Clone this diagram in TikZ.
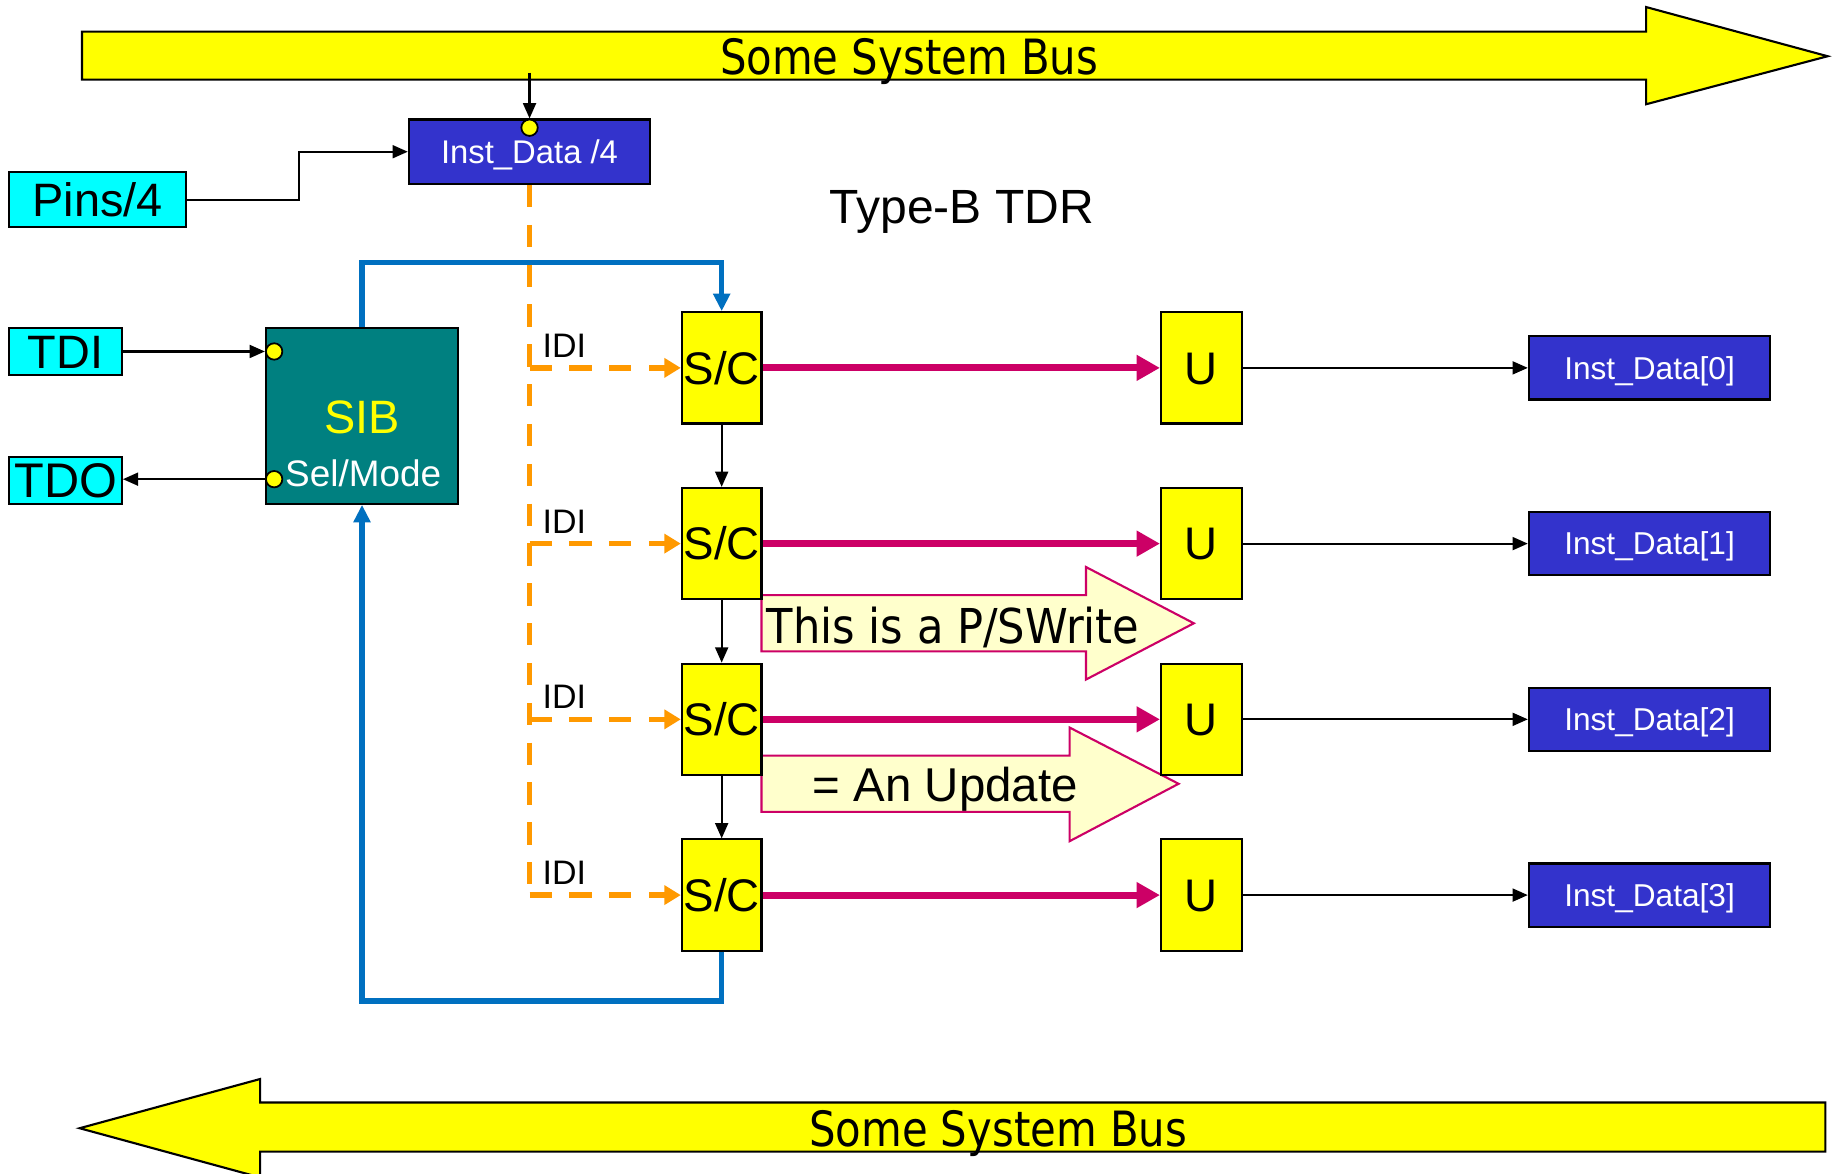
\documentclass[tikz,border=0pt]{standalone}
\usepackage{fontspec}
\setmainfont{Liberation Sans}
\newfontfamily\busface{DejaVu Sans}[FakeStretch=0.86]
\newfontfamily\noteface{DejaVu Sans}[FakeStretch=0.9]
\usetikzlibrary{arrows.meta,calc}

\definecolor{busyellow}{HTML}{FFFF00}
\definecolor{pincyan}{HTML}{00FFFF}
\definecolor{sibteal}{HTML}{008080}
\definecolor{instblue}{HTML}{3333CC}
\definecolor{loopblue}{HTML}{0070C0}
\definecolor{idiorange}{HTML}{FF9900}
\definecolor{updmagenta}{HTML}{CC0066}
\definecolor{notecream}{HTML}{FFFFCC}

\newcommand\setfs[1]{\fontsize{#1}{#1}\selectfont}

\begin{document}
\begin{tikzpicture}[x=1pt,y=-1pt,
  blk/.style={draw=black, line width=1.8pt, inner sep=0pt, text depth=0pt},
  pinbox/.style={blk, fill=pincyan, font=\setfs{40}, text height=28.6pt},
  scbox/.style={blk, fill=busyellow, minimum width=68pt, minimum height=95pt,
                font=\setfs{39}, text height=27.9pt},
  ubox/.style={blk, fill=busyellow, minimum width=69pt, minimum height=95pt,
               font=\setfs{39}, text height=27.9pt},
  instbox/.style={blk, fill=instblue, text=white, minimum width=206pt,
                  minimum height=54pt, font=\setfs{27}, text height=19.3pt},
  bus/.style={fill=busyellow, draw=black, line width=1.8pt, line join=miter},
  note/.style={fill=notecream, draw=updmagenta, line width=1.8pt, line join=miter},
  sigline/.style={draw=black, line width=1.8pt, -{Triangle[length=13pt,width=11pt]}},
  looppath/.style={draw=loopblue, line width=4.5pt, -{Triangle[length=15pt,width=14pt]}},
  idipath/.style={draw=idiorange, line width=4.5pt, dash pattern=on 19pt off 15pt},
  idiarrow/.style={idipath, -{Triangle[length=14pt,width=16pt]}},
  updpath/.style={draw=updmagenta, line width=6pt, -{Triangle[length=20pt,width=21pt]}},
  dot/.style={circle, fill=busyellow, draw=black, line width=1.5pt,
              minimum size=14pt, inner sep=0pt},
  idilabel/.style={font=\setfs{29}, anchor=base west, inner sep=0pt}
]
\path[use as bounding box] (0,0) rectangle (1568,1002);
\clip (0,0) rectangle (1568,1002);
\fill[white] (0,0) rectangle (1568,1002);

% system buses
\filldraw[bus] (70,27) -- (1405,27) -- (1405,6) -- (1560,48) -- (1405,89)
  -- (1405,68) -- (70,68) -- cycle;
\node[font=\busface\setfs{41.5}, anchor=base] (bustoplabel) at (776,64) {Some System Bus};
\filldraw[bus] (1558,941) -- (222,941) -- (222,921) -- (68,963) -- (222,1005)
  -- (222,983) -- (1558,983) -- cycle;
\node[font=\busface\setfs{41.5}, anchor=base] (busbotlabel) at (852,979) {Some System Bus};

% callout arrows
\filldraw[note] (650,508) -- (927,508) -- (927,484) -- (1019,532) -- (927,580)
  -- (927,556) -- (650,556) -- cycle;
\node[font=\noteface\setfs{41}, anchor=base] (notewrite) at (813.5,549) {This is a P/SWrite};
\filldraw[note] (650,645) -- (913,645) -- (913,621) -- (1006,669) -- (913,718)
  -- (913,693) -- (650,693) -- cycle;
\node[font=\setfs{40.5}, anchor=base] (noteupdate) at (807,684.5) {= An Update};

% title
\node[font=\setfs{41}, anchor=base] (title) at (821,190.5) {Type-B TDR};

% blocks on the left
\node[instbox, minimum height=55pt, font=\setfs{28}, text height=20pt] (idq) at (452,129.5) {Inst\_Data /4};
\node[pinbox, minimum width=151pt, minimum height=47pt] (pins) at (83.5,170.5) {Pins/4};
\node[pinbox, minimum width=96pt, minimum height=40pt] (tdi) at (56,300) {TDI};
\node[pinbox, minimum width=96pt, minimum height=40pt, font=\setfs{41.5}] (tdo) at (56,410) {TDO};
\node[blk, fill=sibteal, minimum width=164pt, minimum height=150pt] (sib) at (309,355) {};
\node[text=busyellow, font=\setfs{40}, anchor=base] (sibname) at (309,370) {SIB};
\node[text=white, font=\setfs{31.5}, anchor=base] (sibmode) at (310,415) {Sel/Mode};

% shift/capture, update and instrument register rows
\foreach \i/\y in {0/314, 1/464, 2/614, 3/764} {
  \node[scbox] (sc\i) at (616,\y) {S/C};
  \node[ubox] (u\i) at (1025.5,\y) {U};
  \node[instbox] (inst\i) at (1408,\y) {Inst\_Data[\i]};
  \node[idilabel] (idi\i) at (463,\y-9) {IDI};
}

% connectors
\coordinate (bustap) at (452,62);
\draw[sigline] (bustap) -- (idq.north);
\draw[sigline] (pins.east) -- ++(95,0) |- (idq.west);
\draw[sigline] (tdi.east) -- (sib.west |- tdi.east);
\draw[sigline] (sib.west |- 0,409) -- (tdo.east |- 0,409);

\draw[looppath] (sib.north) -- ++(0,-55) -| (sc0.north);
\draw[looppath] (sc3.south) -- ++(0,42) -| (sib.south);

\draw[idipath] (idq.south) -- (idq.south |- sc3.west);
\foreach \i in {0,1,2,3} {
  \draw[idiarrow] (idq.south |- sc\i.west) -- (sc\i.west);
  \draw[updpath] (sc\i.east) -- (u\i.west);
  \draw[sigline] (u\i.east) -- (inst\i.west);
}
\foreach \a/\b in {0/1, 1/2, 2/3} {
  \draw[sigline] (sc\a.south) -- (sc\b.north);
}

% port markers
\node[dot] (dotq) at (452,109) {};
\node[dot] (dottdi) at (234,300) {};
\node[dot] (dottdo) at (234,409) {};
\end{tikzpicture}
\end{document}
